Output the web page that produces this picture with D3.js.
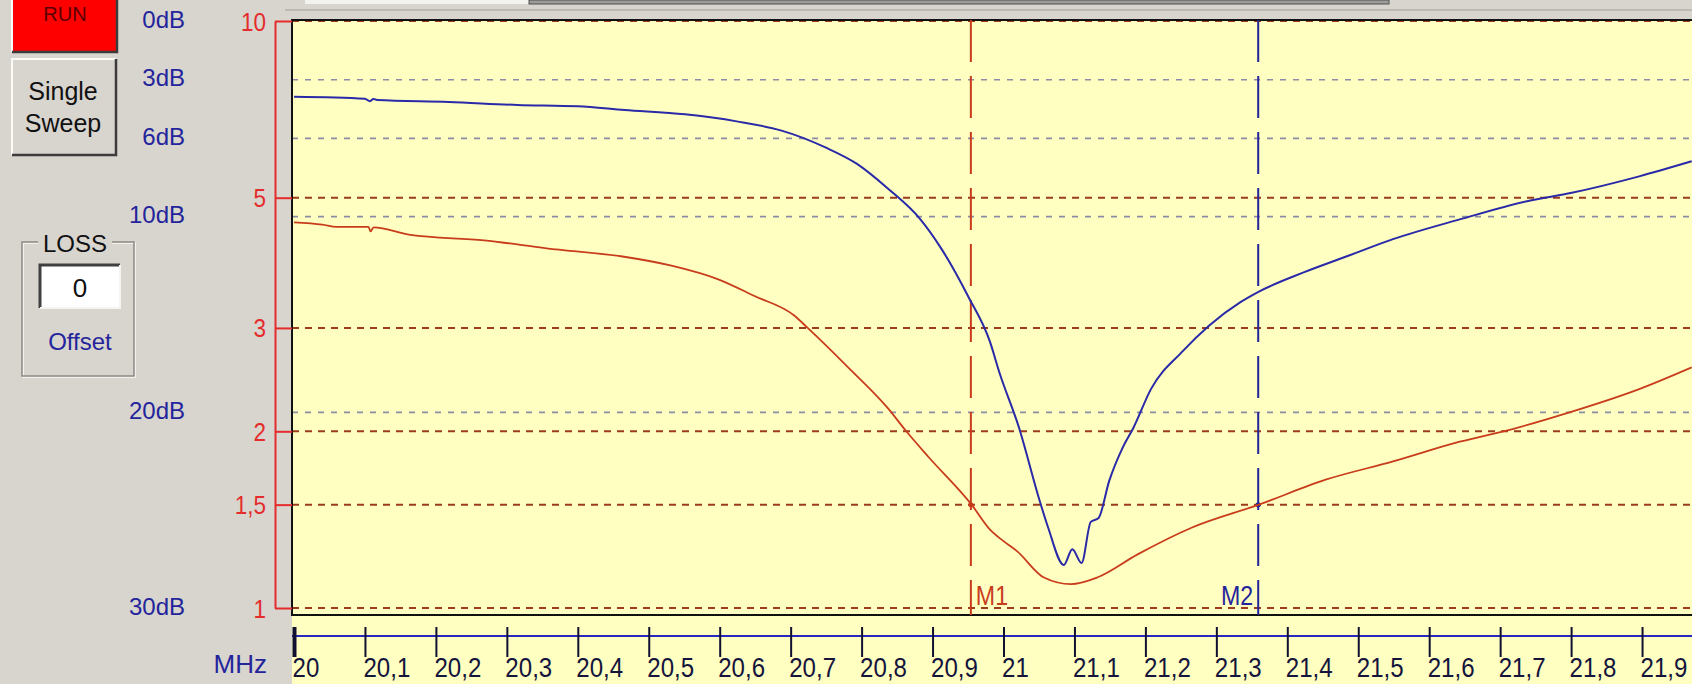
<!DOCTYPE html>
<html>
<head>
<meta charset="utf-8">
<script src="https://cdn.jsdelivr.net/npm/d3@7"></script>
<style>
body { margin: 0; background: #d8d5ce; overflow: hidden; }
svg { display: block; font-family: "Liberation Sans", Arial, sans-serif; }
</style>
</head>
<body>
<div id="chart"></div>
<script>
// Tick values
const freqTicks = [20, 20.1, 20.2, 20.3, 20.4, 20.5, 20.6, 20.7, 20.8, 20.9, 21, 21.1, 21.2, 21.3, 21.4, 21.5, 21.6, 21.7, 21.8, 21.9];
const vswrTicks = [10, 5, 3, 2, 1.5, 1];
const dbTicks = [0, 3, 6, 10, 20, 30];
const dbGrid = [3, 6, 10, 20];

// Markers (MHz)
const markerNames = ["M1", "M2"];
const markerFreqs = [20.954, 21.359];

// SWR trace (red)
const swrFreq = [20.000, 20.040, 20.060, 20.105, 20.108, 20.112, 20.164, 20.268, 20.356, 20.463, 20.532, 20.598, 20.649, 20.705, 20.724, 20.781, 20.837, 20.863, 20.894, 20.955, 20.981, 21.000, 21.019, 21.057, 21.095, 21.132, 21.189, 21.265, 21.360, 21.454, 21.549, 21.643, 21.719, 21.801, 21.896, 21.970];
const swrValues = [4.54, 4.50, 4.46, 4.46, 4.38, 4.45, 4.32, 4.23, 4.10, 3.97, 3.83, 3.63, 3.40, 3.15, 3.00, 2.57, 2.19, 2.00, 1.81, 1.50, 1.36, 1.30, 1.25, 1.127, 1.098, 1.127, 1.234, 1.37, 1.50, 1.654, 1.777, 1.92, 2.02, 2.16, 2.36, 2.57];

// Return loss trace (blue), dB
const rlFreq = [20.000, 20.100, 20.107, 20.112, 20.117, 20.218, 20.315, 20.400, 20.466, 20.551, 20.624, 20.686, 20.749, 20.793, 20.837, 20.882, 20.913, 20.951, 20.981, 20.994, 21.022, 21.050, 21.063, 21.085, 21.097, 21.110, 21.123, 21.134, 21.149, 21.168, 21.183, 21.208, 21.252, 21.290, 21.334, 21.360, 21.423, 21.486, 21.549, 21.643, 21.738, 21.801, 21.896, 21.970];
const rlValues = [3.87, 3.97, 4.10, 3.98, 4.04, 4.14, 4.29, 4.36, 4.55, 4.77, 5.13, 5.59, 6.46, 7.29, 8.56, 10.1, 11.67, 14.13, 16.4, 17.94, 20.8, 24.4, 25.9, 27.8, 27.0, 27.7, 25.6, 25.4, 23.5, 21.8, 20.8, 18.8, 16.9, 15.56, 14.37, 13.83, 12.85, 12.0, 11.15, 10.14, 9.21, 8.78, 7.94, 7.17];

const colors = {
    plotBg: "#ffffc2",
    swr: "#c83c1c",
    rl: "#2a2aa8",
    swrGrid: "#9c3c1c",
    dbGrid: "#8c8ca4",
    redAxis: "#e42c2c",
    navy: "#24249c",
    tickText: "#14143c"
};

const W = 1692, H = 684;
const plot = { left: 292, top: 20, right: 1692, bottom: 615 };

const svg = d3.select("#chart").append("svg")
    .attr("width", W)
    .attr("height", H);

// Scales
const x = d3.scaleLinear().domain([20, 22]).range([294, 1713]);
const ySwr = d3.scaleLog().domain([1, 10]).range([608, 21]);
const yDb = d3.scaleLinear().domain([0, 30]).range([21, 608]);

// top tab strip
svg.append("rect").attr("x", 305).attr("y", 0).attr("width", 224).attr("height", 4).attr("fill", "#f2f2f0");
svg.append("rect").attr("x", 529).attr("y", 0).attr("width", 860).attr("height", 4).attr("fill", "#9c9c9a")
    .attr("stroke", "#505050").attr("stroke-width", 1);
svg.append("line").attr("x1", 285).attr("x2", W).attr("y1", 10).attr("y2", 10)
    .attr("stroke", "#bdbab4").attr("stroke-width", 2);

// yellow plot + axis area
svg.append("rect")
    .attr("x", plot.left).attr("y", plot.top)
    .attr("width", W - plot.left).attr("height", H - plot.top)
    .attr("fill", colors.plotBg);

// grid lines: SWR
svg.append("g").selectAll("line")
    .data(vswrTicks)
    .join("line")
    .attr("x1", plot.left).attr("x2", plot.right)
    .attr("y1", d => ySwr(d)).attr("y2", d => ySwr(d))
    .attr("stroke", colors.swrGrid)
    .attr("stroke-width", 2)
    .attr("stroke-dasharray", "7,6");

// grid lines: dB
svg.append("g").selectAll("line")
    .data(dbGrid)
    .join("line")
    .attr("x1", plot.left).attr("x2", plot.right)
    .attr("y1", d => yDb(d)).attr("y2", d => yDb(d))
    .attr("stroke", colors.dbGrid)
    .attr("stroke-width", 1.6)
    .attr("stroke-dasharray", "6,7");

// plot frame
svg.append("path")
    .attr("d", `M${plot.right},${plot.top}H${plot.left}V${plot.bottom}H${plot.right}`)
    .attr("fill", "none")
    .attr("stroke", "#111")
    .attr("stroke-width", 2);

// markers
markerNames.forEach((name, i) => {
    const mx = x(markerFreqs[i]);
    const c = i === 0 ? colors.swr : colors.navy;
    svg.append("line")
        .attr("x1", mx).attr("x2", mx)
        .attr("y1", plot.top).attr("y2", plot.bottom)
        .attr("stroke", c)
        .attr("stroke-width", 2)
        .attr("stroke-dasharray", "42,14");
    svg.append("circle")
        .attr("cx", mx).attr("cy", ySwr(1.5))
        .attr("r", 2.5)
        .attr("fill", c);
    svg.append("text")
        .attr("transform", `translate(${i === 0 ? mx + 5 : mx - 5},605) scale(0.86,1)`)
        .attr("text-anchor", i === 0 ? "start" : "end")
        .attr("font-size", 27)
        .attr("fill", c)
        .text(name);
});

// traces
svg.append("clipPath").attr("id", "clip")
    .append("rect")
    .attr("x", plot.left).attr("y", plot.top)
    .attr("width", plot.right - plot.left).attr("height", plot.bottom - plot.top);

const rlLine = d3.line()
    .x((d, i) => x(rlFreq[i]))
    .y(d => yDb(d))
    .curve(d3.curveMonotoneX);

const swrLine = d3.line()
    .x((d, i) => x(swrFreq[i]))
    .y(d => ySwr(d))
    .curve(d3.curveMonotoneX);

svg.append("path")
    .attr("clip-path", "url(#clip)")
    .attr("d", rlLine(rlValues))
    .attr("fill", "none")
    .attr("stroke", colors.rl)
    .attr("stroke-width", 2);

svg.append("path")
    .attr("clip-path", "url(#clip)")
    .attr("d", swrLine(swrValues))
    .attr("fill", "none")
    .attr("stroke", colors.swr)
    .attr("stroke-width", 1.8);

// SWR axis (red, left)
const swrAxis = svg.append("g")
    .attr("transform", "translate(275,0)")
    .call(d3.axisRight(ySwr)
        .tickValues(vswrTicks)
        .tickFormat(d => String(d).replace(".", ","))
        .tickSize(17)
        .tickSizeOuter(0));
swrAxis.select(".domain").attr("stroke", colors.redAxis).attr("stroke-width", 2);
swrAxis.selectAll(".tick line").attr("stroke", colors.redAxis).attr("stroke-width", 2);
swrAxis.selectAll(".tick text")
    .attr("x", -9 / 0.9)
    .attr("dy", "0.36em")
    .attr("text-anchor", "end")
    .attr("transform", "scale(0.9,1)")
    .attr("font-size", 25)
    .attr("fill", colors.redAxis);

// dB labels (blue, far left)
svg.append("g").selectAll("text")
    .data(dbTicks)
    .join("text")
    .attr("x", 185)
    .attr("y", d => yDb(d) - 2)
    .attr("dy", "0.36em")
    .attr("text-anchor", "end")
    .attr("font-size", 24)
    .attr("fill", colors.navy)
    .text(d => d + "dB");

// frequency axis
svg.append("line")
    .attr("x1", plot.left).attr("x2", W)
    .attr("y1", 636).attr("y2", 636)
    .attr("stroke", "#2828c0")
    .attr("stroke-width", 2);

const freqAxis = svg.append("g")
    .attr("transform", "translate(0,627)")
    .call(d3.axisBottom(x)
        .tickValues(freqTicks)
        .tickFormat(d => String(d).replace(".", ","))
        .tickSize(30)
        .tickSizeOuter(0));
freqAxis.select(".domain").remove();
freqAxis.selectAll(".tick line").attr("stroke", "#101030").attr("stroke-width", 2);
freqAxis.select(".tick line").attr("stroke-width", 4);
freqAxis.selectAll(".tick text")
    .attr("x", -2 / 0.86)
    .attr("y", 50)
    .attr("dy", null)
    .attr("text-anchor", "start")
    .attr("transform", "scale(0.86,1)")
    .attr("font-size", 28)
    .attr("fill", colors.tickText);

svg.append("text")
    .attr("x", 267).attr("y", 673)
    .attr("text-anchor", "end")
    .attr("font-size", 26)
    .attr("fill", colors.navy)
    .text("MHz");

// left control panel
function button3d(x0, y0, w, h, fill) {
    svg.append("rect").attr("x", x0).attr("y", y0).attr("width", w).attr("height", h).attr("fill", fill);
    svg.append("path").attr("d", `M${x0},${y0 + h}V${y0}H${x0 + w}`)
        .attr("fill", "none").attr("stroke", "#fbfbf8").attr("stroke-width", 2);
    svg.append("path").attr("d", `M${x0},${y0 + h}H${x0 + w}V${y0}`)
        .attr("fill", "none").attr("stroke", "#3c3c3c").attr("stroke-width", 2.5);
}

button3d(12, -8, 105, 60, "#fe0000");
svg.append("text").attr("x", 65).attr("y", 21).attr("text-anchor", "middle")
    .attr("font-size", 20).attr("fill", "#5a0000").text("RUN");

button3d(12, 59, 104, 96, "#d8d5ce");
svg.append("text").attr("x", 63).attr("y", 100).attr("text-anchor", "middle")
    .attr("font-size", 25).attr("fill", "#111").text("Single");
svg.append("text").attr("x", 63).attr("y", 132).attr("text-anchor", "middle")
    .attr("font-size", 25).attr("fill", "#111").text("Sweep");

// LOSS group box
svg.append("rect").attr("x", 23).attr("y", 243).attr("width", 112).attr("height", 134)
    .attr("fill", "none").attr("stroke", "#fbfbf8").attr("stroke-width", 1.5);
svg.append("rect").attr("x", 22).attr("y", 242).attr("width", 112).attr("height", 134)
    .attr("fill", "none").attr("stroke", "#8a8884").attr("stroke-width", 1.5);
svg.append("rect").attr("x", 38).attr("y", 236).attr("width", 74).attr("height", 14).attr("fill", "#d8d5ce");
svg.append("text").attr("x", 75).attr("y", 252).attr("text-anchor", "middle")
    .attr("font-size", 24).attr("fill", "#111").text("LOSS");

svg.append("rect").attr("x", 40).attr("y", 265).attr("width", 80).attr("height", 43).attr("fill", "#fff");
svg.append("path").attr("d", "M40,308V265H120").attr("fill", "none").attr("stroke", "#404040").attr("stroke-width", 3);
svg.append("path").attr("d", "M40,308H120V265").attr("fill", "none").attr("stroke", "#f4f4f0").attr("stroke-width", 2);
svg.append("text").attr("x", 80).attr("y", 297).attr("text-anchor", "middle")
    .attr("font-size", 26).attr("fill", "#111").text("0");

svg.append("text").attr("x", 80).attr("y", 350).attr("text-anchor", "middle")
    .attr("font-size", 24).attr("fill", colors.navy).text("Offset");
</script>
</body>
</html>
